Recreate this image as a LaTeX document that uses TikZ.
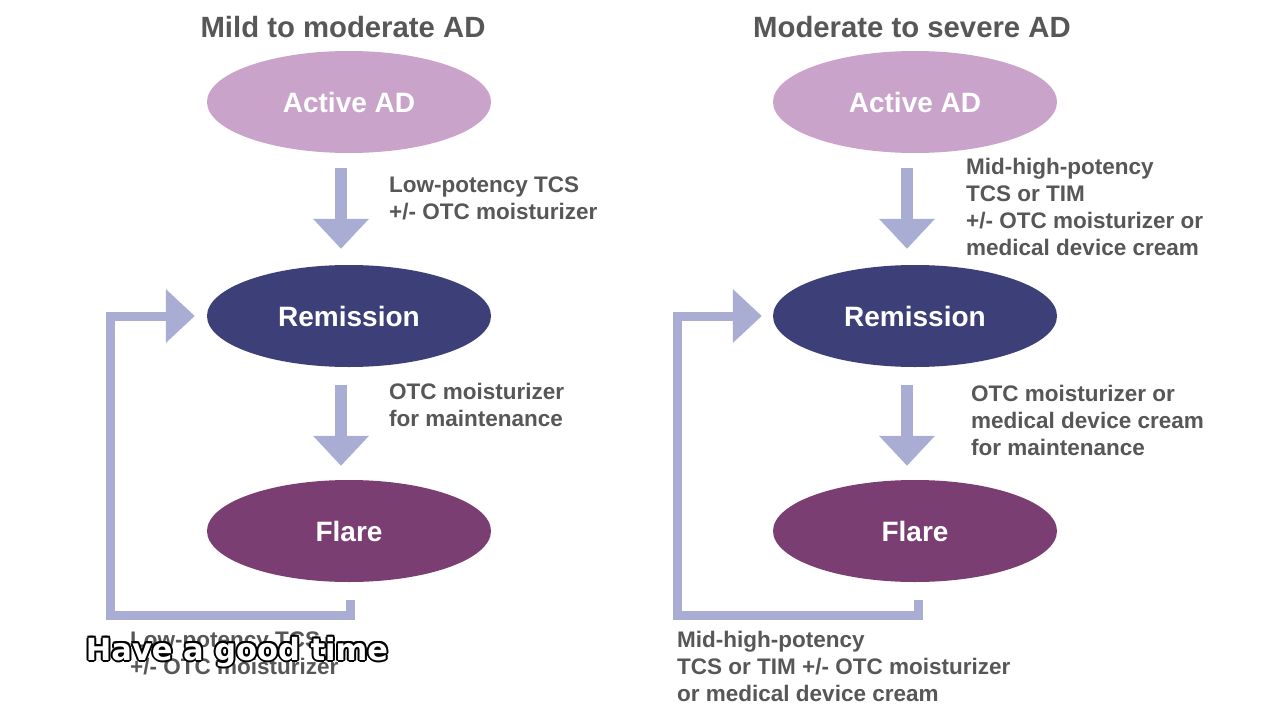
\documentclass[tikz,border=0pt]{standalone}
\usepackage{fontspec}
\setmainfont{Liberation Sans}
\newfontfamily\subtitlefont{DejaVu Sans}
\usetikzlibrary{shapes.geometric,arrows.meta,positioning}
\definecolor{activecol}{HTML}{C9A3C9}
\definecolor{remissioncol}{HTML}{3D3F79}
\definecolor{flarecol}{HTML}{7B3E72}
\definecolor{arrowcol}{HTML}{A9ACD3}
\definecolor{textcol}{HTML}{575757}

\begin{document}
\begin{tikzpicture}[x=1pt,y=-1pt]
    \pgfmathsetmacro{\phasewidth}{284}
    \pgfmathsetmacro{\phaseheight}{102}
    \pgfmathsetmacro{\leftx}{349}
    \pgfmathsetmacro{\rightx}{915}
    \providecommand{\titlefontsize}{\fontsize{29.3}{32}\selectfont}
    \providecommand{\phasefontsize}{\fontsize{28}{32}\selectfont}
    \providecommand{\labelfontsize}{\fontsize{22.5}{27}\selectfont}
    \providecommand{\subtitlefontsize}{\fontsize{30.5}{34}\selectfont}
    \tikzset{
        phase/.style={ellipse,minimum width=\phasewidth pt,minimum height=\phaseheight pt,inner sep=0,text=white,font=\phasefontsize\bfseries},
        heading/.style={text=textcol,font=\titlefontsize\bfseries,inner sep=0},
        steplabel/.style={text=textcol,font=\labelfontsize\bfseries,align=left,anchor=north west,inner sep=0},
        downarrow/.style={draw=arrowcol,line width=12pt,-{Triangle[width=54pt,length=30pt]}},
        looparrow/.style={draw=arrowcol,line width=9pt,-{Triangle[width=52pt,length=29pt]}}
    }
    \useasboundingbox (0,0) rectangle (1280,720);
    \fill[white] (0,0) rectangle (1280,720);
    % left column
    \node[heading] (title1) at (343,27) {Mild to moderate AD};
    \node[phase,fill=activecol] (act1) at (\leftx,102) {Active AD};
    \node[phase,fill=remissioncol] (rem1) at (\leftx,316) {Remission};
    \node[phase,fill=flarecol] (flare1) at (\leftx,531) {Flare};
    \draw[downarrow,shorten <=15pt,shorten >=16pt] ([xshift=-8pt]act1.south) -- ([xshift=-8pt]rem1.north);
    \draw[downarrow,shorten <=18pt,shorten >=14pt] ([xshift=-8pt]rem1.south) -- ([xshift=-8pt]flare1.north);
    \coordinate (corner1) at (110,615);
    \draw[looparrow,shorten >=12pt] ([xshift=1pt,yshift=-18pt]flare1.south) |- (corner1) |- (rem1.west);
    \node[steplabel] (lab1a) at (389,177) {Low-potency TCS\\+/- OTC moisturizer};
    \node[steplabel] (lab1b) at (389,383) {OTC moisturizer\\for maintenance};
    \node[steplabel] (lab1c) at (130,632) {Low-potency TCS\\+/- OTC moisturizer};
    % right column
    \node[heading] (title2) at (912,27) {Moderate to severe AD};
    \node[phase,fill=activecol] (act2) at (\rightx,102) {Active AD};
    \node[phase,fill=remissioncol] (rem2) at (\rightx,316) {Remission};
    \node[phase,fill=flarecol] (flare2) at (\rightx,531) {Flare};
    \draw[downarrow,shorten <=15pt,shorten >=16pt] ([xshift=-8pt]act2.south) -- ([xshift=-8pt]rem2.north);
    \draw[downarrow,shorten <=18pt,shorten >=14pt] ([xshift=-8pt]rem2.south) -- ([xshift=-8pt]flare2.north);
    \coordinate (corner2) at (677,615);
    \draw[looparrow,shorten >=11pt] ([xshift=3pt,yshift=-18pt]flare2.south) |- (corner2) |- (rem2.west);
    \node[steplabel] (lab2a) at (966,158) {Mid-high-potency\\TCS or TIM\\+/- OTC moisturizer or\\medical device cream};
    \node[steplabel] (lab2b) at (971,385) {OTC moisturizer or\\medical device cream\\for maintenance};
    \node[steplabel] (lab2c) at (677,631) {Mid-high-potency\\TCS or TIM +/- OTC moisturizer\\or medical device cream};
    % caption overlay
    \foreach \dx/\dy in {-2/0,2/0,0/-2,0/2,-1.4/-1.4,1.4/-1.4,-1.4/1.4,1.4/1.4}
        \node[text=black,font=\subtitlefontsize\subtitlefont\bfseries,inner sep=0] at (237+\dx,652+\dy) {Have a good time};
    \node[text=white,font=\subtitlefontsize\subtitlefont\bfseries,inner sep=0] (subtitle) at (237,652) {Have a good time};
\end{tikzpicture}
\end{document}
